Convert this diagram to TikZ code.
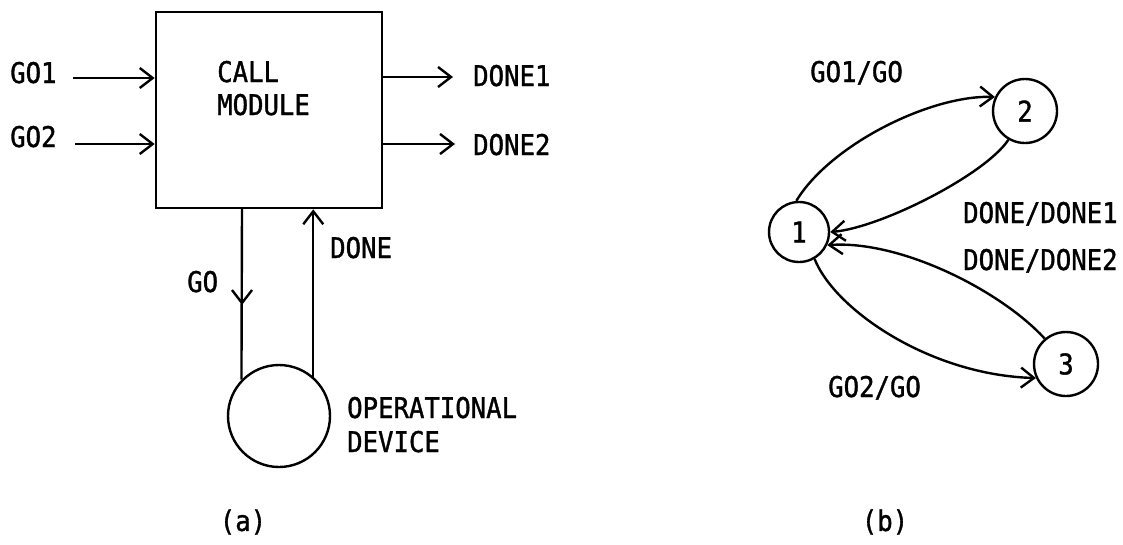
\documentclass[tikz,border=0pt]{standalone}
\usepackage{fontspec}
\newfontfamily\diafont[FakeStretch=0.9,FakeBold=1.2]{DejaVu Sans Mono}
\usetikzlibrary{arrows.meta}
\begin{document}
\begin{tikzpicture}[x=1pt,y=-1pt,
  lbl/.style={font=\diafont\fontsize{28.5}{32}\selectfont, inner sep=0pt, anchor=base west},
  ln/.style={line width=2.4pt},
  arr/.style={ln, -{Straight Barb[length=13pt,width=20pt]}},
  state/.style={draw, circle, line width=2.4pt, inner sep=0pt, font=\diafont\fontsize{28.5}{32}\selectfont}]
\useasboundingbox (0,0) rectangle (1123,544);
% (a)
\node[draw, line width=2.6pt, minimum width=226pt, minimum height=196pt, inner sep=0pt] (cm) at (269,110) {};
\node[lbl] (call) at (217,82) {CALL};
\node[lbl] (module) at (217,115) {MODULE};
\node[lbl] (go1) at (10,83) {GO1};
\node[lbl] (go2) at (10,147) {GO2};
\node[lbl] (done1) at (473,86) {DONE1};
\node[lbl] (done2) at (473,155) {DONE2};
\node[lbl] (donel) at (330,258) {DONE};
\node[lbl] (gol) at (187,292) {GO};
\node[draw, circle, line width=2.4pt, minimum size=102pt, inner sep=0pt] (od) at (279,416) {};
\node[lbl] (oper) at (347,418) {OPERATIONAL};
\node[lbl] (dev) at (347,452) {DEVICE};
\node[font=\diafont\fontsize{28.5}{32}\selectfont, inner sep=0pt] (capa) at (243,522) {(a)};
\coordinate (g1s) at (73,78);
\coordinate (g2s) at (75,144);
\coordinate (d1e) at (453,77);
\coordinate (d2e) at (455,144);
\coordinate (gom) at (242,305);
\draw[arr] (g1s) -- (g1s -| cm.west);
\draw[arr] (g2s) -- (g2s -| cm.west);
\draw[arr] (cm.east |- d1e) -- (d1e);
\draw[arr] (cm.east |- d2e) -- (d2e);
\draw[ln] (cm.south -| gom) -- (od.136.5);
\draw[arr] (cm.south -| gom) -- (gom);
\draw[arr] (od.49.7) -- (od.49.7 |- cm.south);
% (b)
\node[state, minimum size=60pt] (n1) at (799,232) {1};
\node[state, minimum size=64pt] (n2) at (1025,111) {2};
\node[state, minimum size=64pt] (n3) at (1066,364) {3};
\node[lbl] (l12) at (810,82) {GO1/GO};
\node[lbl] (l21) at (963,223) {DONE/DONE1};
\node[lbl] (l31) at (963,270) {DONE/DONE2};
\node[lbl] (l13) at (828,397) {GO2/GO};
\node[font=\diafont\fontsize{28.5}{32}\selectfont, inner sep=0pt] (capb) at (885,522) {(b)};
\draw[arr] (n1.95) .. controls (830,145) and (930,95) .. (n2.155);
\draw[arr] (n2.240) .. controls (985,175) and (880,228) .. (n1.0);
\draw[arr] (n3.130) .. controls (1000,290) and (900,240) .. (n1.335);
\draw[arr] (n1.300) .. controls (835,310) and (930,375) .. (n3.205);
\end{tikzpicture}
\end{document}
